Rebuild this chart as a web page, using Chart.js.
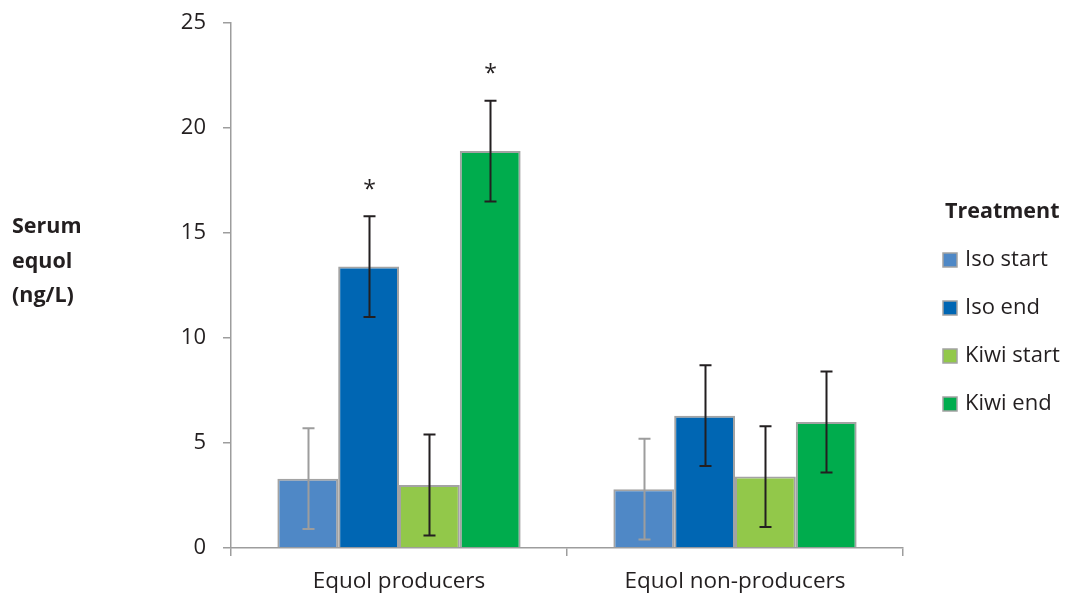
<!DOCTYPE html>
<html>
<head>
<meta charset="utf-8">
<script src="https://cdn.jsdelivr.net/npm/chart.js@4/dist/chart.umd.min.js"></script>
<style>
  html, body { margin: 0; padding: 0; background: #ffffff; }
  #wrap { width: 1075px; height: 596px; position: relative; }
</style>
</head>
<body>
<div id="wrap"><canvas id="chart" width="1075" height="596"></canvas></div>
<script>
// Serum equol by treatment group, mean with error bar half-widths
const categories = ['Equol producers', 'Equol non-producers'];
const seriesNames = ['Iso start', 'Iso end', 'Kiwi start', 'Kiwi end'];

const isoStart  = [3.3, 2.8];
const isoEnd    = [13.4, 6.3];
const kiwiStart = [3.0, 3.4];
const kiwiEnd   = [18.9, 6.0];

const isoStartErr  = [2.4, 2.4];
const isoEndErr    = [2.4, 2.4];
const kiwiStartErr = [2.4, 2.4];
const kiwiEndErr   = [2.4, 2.4];

// significance markers drawn above the error bars
const isoStartSig  = ['', ''];
const isoEndSig    = ['*', ''];
const kiwiStartSig = ['', ''];
const kiwiEndSig   = ['*', ''];

const yTicks = [0, 5, 10, 15, 20, 25];
const yTitleLines = ['Serum', 'equol', '(ng/L)'];
const legendTitle = 'Treatment';

const FONT = '"Open Sans", sans-serif';
const TEXT = '#231f20';
const AXIS = '#9d9d9d';

const fills = ['#4f88c6', '#0066b3', '#92c84a', '#00ac4d'];
const errColors = ['#9d9d9d', '#231f20', '#231f20', '#231f20'];
const values = [isoStart, isoEnd, kiwiStart, kiwiEnd];
const errs = [isoStartErr, isoEndErr, kiwiStartErr, kiwiEndErr];
const sigs = [isoStartSig, isoEndSig, kiwiStartSig, kiwiEndSig];

const datasets = seriesNames.map((name, i) => ({
  label: name,
  data: values[i],
  errors: errs[i],
  marks: sigs[i],
  errorColor: errColors[i],
  backgroundColor: fills[i],
  borderColor: '#a3a3a3',
  borderWidth: 2,
  borderSkipped: 'bottom',
  barPercentage: 1.0,
  categoryPercentage: 0.724
}));

// error bars and significance stars
const errorBars = {
  id: 'errorBars',
  afterDatasetsDraw(chart) {
    const ctx = chart.ctx;
    const y = chart.scales.y;
    chart.data.datasets.forEach((ds, di) => {
      const meta = chart.getDatasetMeta(di);
      meta.data.forEach((bar, j) => {
        const v = ds.data[j], e = ds.errors[j];
        const top = y.getPixelForValue(v + e);
        const bot = y.getPixelForValue(v - e);
        const x = Math.round(bar.x) + 0.5;
        ctx.save();
        ctx.strokeStyle = ds.errorColor;
        ctx.lineWidth = 2;
        ctx.beginPath();
        ctx.moveTo(x, top); ctx.lineTo(x, bot);
        ctx.moveTo(x - 6, top); ctx.lineTo(x + 6, top);
        ctx.moveTo(x - 6, bot); ctx.lineTo(x + 6, bot);
        ctx.stroke();
        if (ds.marks[j]) {
          ctx.fillStyle = TEXT;
          ctx.font = '23px ' + FONT;
          ctx.textAlign = 'center';
          ctx.textBaseline = 'middle';
          ctx.fillText(ds.marks[j], x, top - 26);
        }
        ctx.restore();
      });
    });
  }
};

// left-aligned y axis title and the legend on the right
const sideText = {
  id: 'sideText',
  afterDraw(chart) {
    const ctx = chart.ctx;
    ctx.save();
    ctx.fillStyle = TEXT;
    ctx.font = 'bold 21.5px ' + FONT;
    ctx.textAlign = 'left';
    ctx.textBaseline = 'middle';
    yTitleLines.forEach((t, i) => ctx.fillText(t, 12, 227 + i * 34.5));

    ctx.fillText(legendTitle, 945, 212);
    ctx.font = '22px ' + FONT;
    chart.data.datasets.forEach((ds, i) => {
      const cy = 260 + i * 48;
      ctx.fillStyle = ds.backgroundColor;
      ctx.fillRect(943, cy - 7, 14, 14);
      ctx.strokeStyle = '#a3a3a3';
      ctx.lineWidth = 1.5;
      ctx.strokeRect(943, cy - 7, 14, 14);
      ctx.fillStyle = TEXT;
      ctx.fillText(ds.label, 965, cy);
    });
    ctx.restore();
  }
};

new Chart(document.getElementById('chart'), {
  type: 'bar',
  data: { labels: categories, datasets },
  options: {
    responsive: false,
    animation: false,
    layout: { padding: { top: 23, right: 172, bottom: 0, left: 0 } },
    plugins: { legend: { display: false }, tooltip: { enabled: false } },
    scales: {
      x: {
        offset: true,
        afterFit(s) { s.height = 48; s.paddingLeft = 0; s.paddingRight = 0; },
        border: { display: true, color: AXIS, width: 1.5 },
        grid: { display: true, offset: true, drawOnChartArea: false, drawTicks: true, tickLength: 8, color: AXIS, lineWidth: 1.5 },
        ticks: { color: TEXT, font: { family: FONT, size: 22.5 }, padding: 12, maxRotation: 0 }
      },
      y: {
        min: 0, max: 25,
        afterFit(s) { s.width = 231; s.paddingTop = 0; s.paddingBottom = 0; },
        afterBuildTicks(s) { s.ticks = yTicks.map(v => ({ value: v })); },
        border: { display: true, color: AXIS, width: 1.5 },
        grid: { display: true, drawOnChartArea: false, drawTicks: true, tickLength: 8, color: AXIS, lineWidth: 1.5 },
        ticks: { color: TEXT, font: { family: FONT, size: 22 }, padding: 17 }
      }
    }
  },
  plugins: [errorBars, sideText]
});
</script>
</body>
</html>
